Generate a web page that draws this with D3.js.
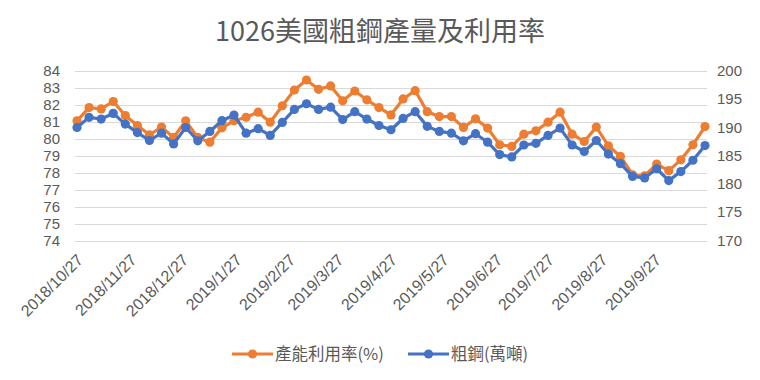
<!DOCTYPE html>
<html>
<head>
<meta charset="utf-8">
<script src="https://cdn.jsdelivr.net/npm/d3@7"></script>
<style>
  body { margin: 0; background: #fff; }
  text { font-family: "Liberation Sans", "Noto Sans CJK TC", sans-serif; fill: #595959; }
  .cjk { font-family: "Noto Sans CJK TC", sans-serif; }
</style>
</head>
<body>
<svg id="chart" width="760" height="380"></svg>
<script>
// weekly data (Saturdays)
var dates = ["2018/10/27","2018/11/3","2018/11/10","2018/11/17","2018/11/24","2018/12/1","2018/12/8","2018/12/15","2018/12/22","2018/12/29",
  "2019/1/5","2019/1/12","2019/1/19","2019/1/26","2019/2/2","2019/2/9","2019/2/16","2019/2/23","2019/3/2","2019/3/9",
  "2019/3/16","2019/3/23","2019/3/30","2019/4/6","2019/4/13","2019/4/20","2019/4/27","2019/5/4","2019/5/11","2019/5/18",
  "2019/5/25","2019/6/1","2019/6/8","2019/6/15","2019/6/22","2019/6/29","2019/7/6","2019/7/13","2019/7/20","2019/7/27",
  "2019/8/3","2019/8/10","2019/8/17","2019/8/24","2019/8/31","2019/9/7","2019/9/14","2019/9/21","2019/9/28","2019/10/5",
  "2019/10/12","2019/10/19","2019/10/26"]

// 產能利用率(%)
var util = [81.06, 81.84, 81.76, 82.2, 81.37, 80.78, 80.24, 80.69, 80.08, 81.06,
  80.08, 79.8, 80.65, 81.06, 81.27, 81.57, 80.98, 81.95, 82.88, 83.47,
  82.92, 83.12, 82.24, 82.82, 82.3, 81.84, 81.41, 82.35, 82.84, 81.6,
  81.31, 81.31, 80.67, 81.18, 80.63, 79.65, 79.55, 80.27, 80.47, 80.98,
  81.57, 80.27, 79.84, 80.69, 79.59, 78.96, 77.88, 77.82, 78.51, 78.12,
  78.76, 79.65, 80.72]

// 粗鋼(萬噸)
var steel = [190.0, 191.8, 191.5, 192.5, 190.6, 189.1, 187.7, 189.0, 187.1, 190.0,
  187.65, 189.3, 191.2, 192.2, 189.0, 189.8, 188.6, 190.9, 193.2, 194.2,
  193.2, 193.6, 191.4, 192.8, 191.5, 190.35, 189.6, 191.6, 192.8, 190.2,
  189.3, 189.0, 187.65, 188.9, 187.4, 185.2, 184.8, 186.9, 187.2, 188.6,
  189.9, 186.9, 185.75, 187.7, 185.3, 183.6, 181.35, 181.07, 182.7, 180.6,
  182.2, 184.2, 186.8]

var tickLabels = ["2018/10/27","2018/11/27","2018/12/27","2019/1/27","2019/2/27","2019/3/27",
  "2019/4/27","2019/5/27","2019/6/27","2019/7/27","2019/8/27","2019/9/27"]

var leftTicks = [74, 75, 76, 77, 78, 79, 80, 81, 82, 83, 84]
var rightTicks = [170, 175, 180, 185, 190, 195, 200]

var orange = "#ED7D31", blue = "#4472C4"

var parse = d3.timeParse("%Y/%-m/%-d")
var svg = d3.select("#chart")

var x = d3.scaleTime()
  .domain([parse(dates[0]), parse(dates[dates.length - 1])])
  .range([77, 705])
var yL = d3.scaleLinear().domain([74, 84]).range([240.5, 71])
var yR = d3.scaleLinear().domain([170, 200]).range([240.5, 71])

// title
svg.append("text")
  .attr("class", "cjk")
  .attr("x", 380).attr("y", 41)
  .attr("text-anchor", "middle")
  .attr("font-size", 27)
  .text("1026美國粗鋼產量及利用率")

// gridlines
svg.append("g")
  .selectAll("line")
  .data(leftTicks)
  .enter().append("line")
  .attr("x1", 75).attr("x2", 707)
  .attr("y1", function(d) { return Math.round(yL(d)) + 0.5 })
  .attr("y2", function(d) { return Math.round(yL(d)) + 0.5 })
  .attr("stroke", "#D9D9D9")
  .attr("stroke-width", 1)

// left axis labels
svg.append("g")
  .selectAll("text")
  .data(leftTicks)
  .enter().append("text")
  .attr("x", 60)
  .attr("y", function(d) { return yL(d) + 5 })
  .attr("text-anchor", "end")
  .attr("font-size", 15)
  .text(function(d) { return d })

// right axis labels
svg.append("g")
  .selectAll("text")
  .data(rightTicks)
  .enter().append("text")
  .attr("x", 717)
  .attr("y", function(d) { return yR(d) + 5 })
  .attr("font-size", 15)
  .text(function(d) { return d })

// date labels, rotated
svg.append("g")
  .selectAll("text")
  .data(tickLabels)
  .enter().append("text")
  .attr("font-size", 16)
  .attr("text-anchor", "end")
  .attr("transform", function(d) {
    return "translate(" + (x(parse(d)) + 7) + ",261) rotate(-45)"
  })
  .text(function(d) { return d })

var series = [
  { name: "產能利用率(%)", values: util, y: yL, color: orange },
  { name: "粗鋼(萬噸)", values: steel, y: yR, color: blue }
]

series.forEach(function(s) {
  var line = d3.line()
    .x(function(d, i) { return x(parse(dates[i])) })
    .y(function(d) { return s.y(d) })

  var g = svg.append("g")
  g.append("path")
    .attr("d", line(s.values))
    .attr("fill", "none")
    .attr("stroke", s.color)
    .attr("stroke-width", 3.2)
    .attr("stroke-linejoin", "round")

  g.selectAll("circle")
    .data(s.values)
    .enter().append("circle")
    .attr("cx", function(d, i) { return x(parse(dates[i])) })
    .attr("cy", function(d) { return s.y(d) })
    .attr("r", 4.6)
    .attr("fill", s.color)
})

// legend
var legendX = [232, 408]
var legend = svg.append("g")
  .selectAll("g")
  .data(series)
  .enter().append("g")
  .attr("transform", function(d, i) { return "translate(" + legendX[i] + ",354)" })

legend.append("line")
  .attr("x1", 0).attr("x2", 41)
  .attr("stroke", function(d) { return d.color })
  .attr("stroke-width", 3.2)
legend.append("circle")
  .attr("cx", 20.5).attr("r", 4.6)
  .attr("fill", function(d) { return d.color })
legend.append("text")
  .attr("class", "cjk")
  .attr("x", 43).attr("y", 6)
  .attr("font-size", 16.5)
  .text(function(d) { return d.name })
</script>
</body>
</html>
